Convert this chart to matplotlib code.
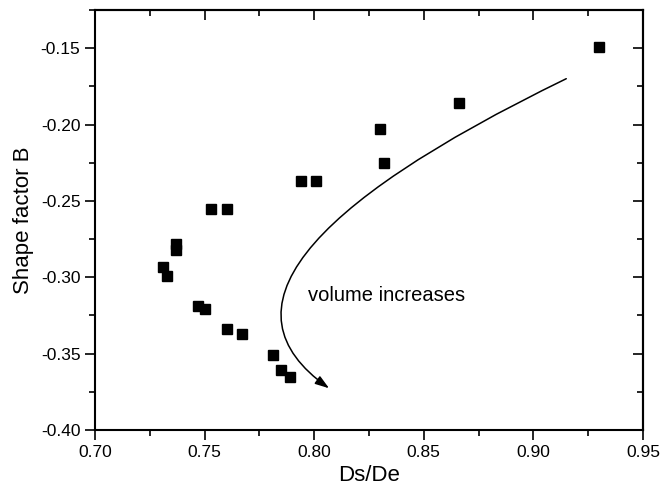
import matplotlib
matplotlib.use("Agg")
import matplotlib.pyplot as plt
from matplotlib.path import Path
from matplotlib.patches import FancyArrowPatch
from matplotlib.ticker import MultipleLocator, FormatStrFormatter

plt.rcParams['font.family'] = ['Liberation Sans', 'DejaVu Sans']
plt.rcParams['axes.unicode_minus'] = False

# measured points (Ds/De, shape factor B)
ds_de = [0.930, 0.866, 0.830, 0.832, 0.794, 0.801, 0.753, 0.760, 0.737,
         0.737, 0.731, 0.733, 0.747, 0.750, 0.760, 0.767, 0.781, 0.785, 0.789]
shape_b = [-0.149, -0.186, -0.203, -0.225, -0.237, -0.237, -0.2555, -0.255, -0.278,
           -0.282, -0.293, -0.299, -0.319, -0.321, -0.334, -0.337, -0.351, -0.361, -0.365]

# guide arrow: start, control, end (quadratic curve)
arrow_x = [0.915, 0.7325, 0.8068]
arrow_y = [-0.170, -0.297, -0.3727]

fig = plt.figure(figsize=(6.72, 4.94), dpi=100)
ax = fig.add_axes([0.1414, 0.1296, 0.8154, 0.8502])

ax.plot(ds_de, shape_b, 's', color='black', markersize=7.3, linestyle='none')

verts = list(zip(arrow_x, arrow_y))
path = Path(verts, [Path.MOVETO, Path.CURVE3, Path.CURVE3])
arrow = FancyArrowPatch(path=path, arrowstyle='-|>,head_length=0.6,head_width=0.2',
                        mutation_scale=14, color='black', linewidth=1.1)
ax.add_patch(arrow)

ax.text(0.797, -0.3117, 'volume increases', fontsize=14.5, va='center', ha='left')

ax.set_xlim(0.70, 0.95)
ax.set_ylim(-0.40, -0.125)
ax.xaxis.set_major_locator(MultipleLocator(0.05))
ax.xaxis.set_minor_locator(MultipleLocator(0.025))
ax.yaxis.set_major_locator(MultipleLocator(0.05))
ax.yaxis.set_minor_locator(MultipleLocator(0.025))
ax.xaxis.set_major_formatter(FormatStrFormatter('%.2f'))
ax.yaxis.set_major_formatter(FormatStrFormatter('%.2f'))

ax.tick_params(which='both', direction='out', top=False, right=False, labelsize=12.5, width=1.2)
ax.tick_params(which='major', length=7)
ax.tick_params(which='minor', length=4)

# mirrored inward ticks on top and right
secx = ax.secondary_xaxis('top')
secx.xaxis.set_major_locator(MultipleLocator(0.05))
secx.xaxis.set_minor_locator(MultipleLocator(0.025))
secx.tick_params(which='both', direction='in', labeltop=False, width=1.2)
secx.tick_params(which='major', length=7)
secx.tick_params(which='minor', length=4)
secy = ax.secondary_yaxis('right')
secy.yaxis.set_major_locator(MultipleLocator(0.05))
secy.yaxis.set_minor_locator(MultipleLocator(0.025))
secy.tick_params(which='both', direction='in', labelright=False, width=1.2)
secy.tick_params(which='major', length=7)
secy.tick_params(which='minor', length=4)

for s in ax.spines.values():
    s.set_linewidth(1.5)
secx.spines['top'].set_linewidth(1.5)
secy.spines['right'].set_linewidth(1.5)

ax.set_xlabel('Ds/De', fontsize=16, labelpad=4)
ax.set_ylabel('Shape factor B', fontsize=16, labelpad=5)

fig.savefig('out.png', dpi=100)
